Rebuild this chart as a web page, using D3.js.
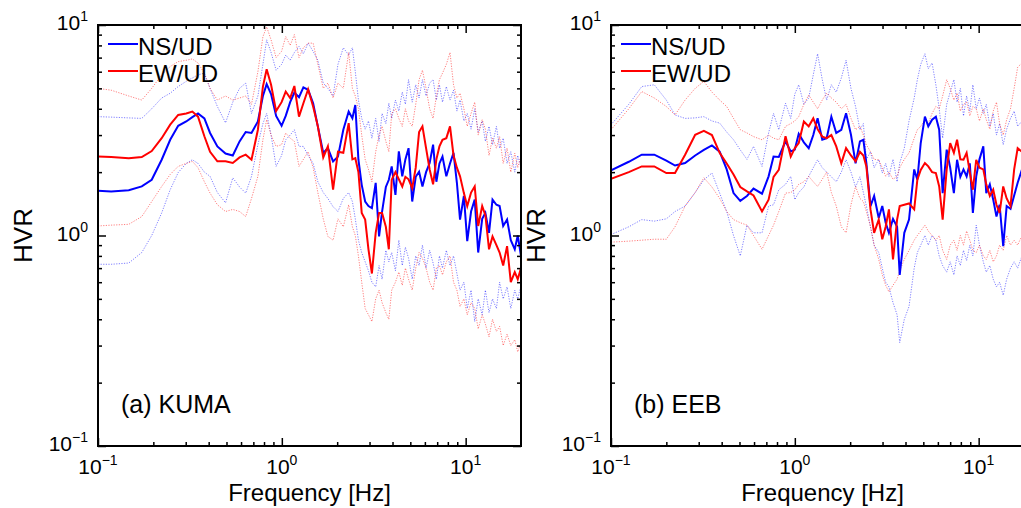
<!DOCTYPE html>
<html><head><meta charset="utf-8">
<script src="https://cdn.jsdelivr.net/npm/d3@7"></script>
<style>
body{margin:0;background:#fff;}
svg{display:block;}
text{font-family:"Liberation Sans",Arial,Helvetica,sans-serif;fill:#000;}
</style>
</head><body>
<svg id="c" width="1021" height="508"></svg>
<script>
// ---- Panel (a) KUMA ----
const freqA=[0.1,0.118,0.147,0.173,0.196,0.222,0.247,0.273,0.302,0.326,
0.35,0.379,0.407,0.446,0.494,0.541,0.589,0.636,0.684,0.741,
0.789,0.827,0.874,0.931,0.997,1.05,1.11,1.17,1.24,1.31,
1.39,1.48,1.57,1.68,1.78,1.9,2.02,2.16,2.31,2.42,
2.51,2.61,2.72,2.84,2.96,3.09,3.24,3.38,3.51,3.68,
3.82,3.96,4.15,4.33,4.52,4.7,4.89,5.12,5.35,5.58,
5.82,6.09,6.37,6.65,6.93,7.2,7.48,7.85,8.22,8.59,
8.96,9.32,9.78,10.2,10.7,11.2,11.7,12.3,12.8,13.4,
14.0,14.7,15.3,16.0,16.8,17.6,18.5,19.2,20.0];
const nsA=[1.63,1.62,1.64,1.71,1.84,2.29,2.85,3.32,3.48,3.65,
3.8,3.6,3.07,2.65,2.45,2.4,2.8,3.1,3.07,3.48,
4.6,5.24,4.7,3.7,3.32,3.7,4.3,4.78,4.54,5.05,
4.92,4.25,3.3,2.47,2.6,2.25,2.37,3.18,3.88,3.61,
4.17,2.29,1.74,1.45,1.38,1.35,1.78,0.99,1.3,1.7,
1.84,2.13,1.56,2.51,1.91,2.3,2.6,1.45,1.9,2.01,
1.71,2.0,2.21,2.7,1.8,2.2,2.37,1.91,2.2,2.47,
1.78,1.19,1.54,0.94,1.3,1.48,0.83,1.2,1.28,1.03,
1.48,1.4,1.38,1.11,1.19,0.95,0.86,1.0,0.8];
const ewA=[2.37,2.36,2.33,2.36,2.52,2.9,3.36,3.74,3.8,3.88,
3.67,2.96,2.5,2.25,2.25,2.21,2.35,2.42,2.29,3.18,
5.1,6.16,5.2,3.9,4.3,4.83,4.5,5.13,3.67,4.25,
4.95,4.1,3.3,2.35,2.65,1.65,2.5,2.47,3.42,2.3,
2.33,2.0,1.28,1.19,0.86,0.66,1.03,1.28,1.28,1.1,
0.86,1.84,2.0,1.85,1.71,1.9,1.85,1.68,2.1,3.1,
3.3,2.6,2.06,1.75,2.3,2.65,2.85,2.9,3.3,2.4,
2.1,1.91,1.59,1.38,1.6,1.71,1.11,1.38,1.25,0.86,
0.99,0.9,0.83,0.72,0.89,0.6,0.67,0.62,0.7];
const nsUpA=[3.67,3.65,3.62,3.6,4.0,4.5,4.74,5.1,5.4,5.6,
5.8,5.9,5.0,4.1,3.43,4.3,5.0,5.3,3.8,4.6,
6.5,8.5,7.4,6.1,6.5,7.2,6.8,7.4,7.9,7.3,
8.2,7.5,6.8,5.3,5.0,4.6,6.5,7.8,7.2,7.8,
6.0,4.4,3.6,3.2,3.5,2.9,3.6,2.8,3.8,3.4,
4.25,3.6,4.4,3.9,4.8,4.2,5.5,4.3,5.2,4.5,
5.5,4.6,5.3,5.5,4.4,5.2,4.3,5.1,4.4,4.9,
3.9,4.4,3.5,3.8,3.2,4.0,3.1,3.5,2.8,3.3,
2.7,3.3,2.6,2.9,2.2,2.5,2.0,2.4,2.1];
const ewUpA=[5.0,4.9,4.6,4.4,5.0,5.8,6.35,6.7,6.8,6.9,
6.6,5.9,5.0,4.4,4.6,4.4,4.5,4.6,4.2,6.0,
8.8,9.8,8.5,7.0,7.5,8.8,8.0,9.0,7.0,7.8,
8.2,8.2,6.5,5.0,5.3,4.5,5.3,5.0,7.4,5.0,
4.6,4.0,3.0,2.3,2.06,1.8,2.5,3.0,3.3,2.8,
2.5,3.8,4.0,3.6,3.3,4.0,3.5,3.3,4.2,5.5,
6.1,5.0,4.0,3.6,4.6,5.5,5.9,6.5,7.4,5.2,
4.5,4.74,4.0,3.3,3.8,4.3,3.0,3.55,3.2,2.4,
2.9,2.6,2.95,2.2,2.6,2.0,2.46,2.1,2.4];
const nsLoA=[0.73,0.73,0.74,0.83,1.0,1.28,1.65,1.99,2.2,2.29,
2.2,2.0,1.91,1.6,1.43,1.88,1.7,1.59,1.91,2.7,
3.4,3.8,3.0,2.13,2.4,2.85,3.0,3.18,2.65,2.65,
2.4,2.2,1.8,1.6,1.5,1.37,1.3,1.5,1.6,1.45,
1.2,0.95,0.83,0.75,0.68,0.6,0.57,0.72,0.62,0.85,
0.75,0.83,0.68,0.95,0.72,0.88,0.78,0.62,0.8,0.72,
0.9,0.7,0.85,0.74,0.62,0.8,0.7,0.85,0.72,0.8,
0.66,0.55,0.6,0.45,0.55,0.39,0.5,0.42,0.55,0.43,
0.5,0.45,0.6,0.5,0.57,0.45,0.55,0.5,0.58];
const ewLoA=[1.11,1.12,1.13,1.23,1.45,1.71,1.95,2.13,2.2,2.25,
2.1,1.8,1.59,1.4,1.3,1.33,1.3,1.23,1.5,1.91,
2.85,3.55,3.0,2.65,2.7,3.07,2.9,2.8,2.13,2.3,
2.5,2.1,1.6,1.2,0.99,0.95,1.2,1.1,1.4,1.1,
1.0,0.8,0.6,0.45,0.42,0.39,0.5,0.55,0.48,0.43,
0.4,0.55,0.6,0.67,0.58,0.7,0.62,0.55,0.7,0.83,
0.78,0.7,0.6,0.55,0.7,0.72,0.65,0.75,0.8,0.6,
0.55,0.46,0.5,0.42,0.48,0.45,0.36,0.42,0.38,0.33,
0.4,0.35,0.37,0.3,0.34,0.3,0.32,0.28,0.31];

// ---- Panel (b) EEB ----
const freqB=[0.1,0.125,0.147,0.172,0.2,0.223,0.253,0.287,0.32,0.354,
0.39,0.426,0.464,0.505,0.549,0.596,0.663,0.72,0.766,0.818,
0.89,0.95,1.0,1.05,1.12,1.19,1.26,1.33,1.41,1.49,
1.58,1.68,1.79,1.9,2.02,2.14,2.26,2.36,2.45,2.58,
2.7,2.86,2.99,3.12,3.25,3.42,3.6,3.72,3.94,4.18,
4.46,4.64,4.84,5.1,5.32,5.58,5.85,6.1,6.37,6.7,
7.0,7.33,7.63,7.95,8.27,8.6,8.95,9.3,9.7,10.1,
10.6,11.0,11.5,12.0,12.5,13.0,13.6,14.2,14.9,15.6,
16.3,17.2];
const nsB=[2.04,2.24,2.42,2.42,2.27,2.15,2.21,2.4,2.55,2.68,
2.5,2.06,1.59,1.46,1.54,1.67,1.58,1.91,2.37,2.36,
2.8,2.51,2.56,3.04,2.77,2.6,3.0,3.61,2.85,2.9,
3.67,3.07,3.18,3.81,3.01,2.2,2.8,2.85,2.21,1.38,
1.54,1.21,1.38,1.15,1.03,1.2,1.1,0.65,1.03,1.19,
2.06,1.84,2.75,3.67,3.3,3.55,3.67,3.18,1.59,2.56,
2.1,1.59,2.29,1.9,2.06,1.91,2.2,1.28,1.91,2.3,
2.65,1.59,1.75,1.48,1.23,1.4,0.89,1.38,1.34,1.55,
1.78,2.06];
const ewB=[1.86,2.0,2.13,2.13,1.98,1.98,2.42,3.01,3.14,3.0,
2.47,2.2,1.95,1.7,1.62,1.55,1.30,1.48,1.9,2.05,
2.96,2.37,2.6,2.75,3.48,3.3,3.6,3.2,2.95,2.9,
3.0,2.65,2.2,2.6,2.4,2.25,2.5,2.4,2.13,1.33,
1.03,1.19,0.96,1.1,1.33,0.77,1.19,1.38,1.4,1.42,
1.33,1.84,2.05,2.21,2.13,2.0,1.98,1.71,1.19,2.06,
2.75,2.47,2.85,2.3,2.29,2.47,2.0,1.65,2.29,2.1,
2.06,1.75,1.54,1.65,1.4,1.28,1.71,1.5,1.38,2.06,
2.6,2.5];
const nsUpB=[3.36,4.2,5.1,5.2,4.4,3.74,3.6,3.62,3.67,3.5,
3.42,3.1,2.85,2.55,2.3,2.65,2.13,3.07,3.8,3.18,
4.25,3.6,4.7,5.2,4.2,4.5,5.8,7.3,5.5,4.4,
5.2,4.8,5.6,6.8,5.0,4.1,3.18,3.4,2.29,2.5,
2.1,2.3,1.98,2.2,1.91,2.3,1.8,2.21,2.6,3.5,
4.5,5.5,6.5,7.3,6.2,6.6,5.2,4.0,2.9,4.2,
4.8,5.5,4.3,5.0,3.7,4.6,3.9,5.2,4.0,4.5,
3.8,4.2,3.3,3.8,3.0,3.4,2.7,3.2,3.6,3.9,
3.3,3.5];
const ewUpB=[3.18,4.0,4.83,4.5,4.1,3.74,4.4,5.0,5.4,4.8,
4.4,4.1,3.6,3.18,3.07,2.95,2.85,3.0,2.9,2.85,
3.3,3.4,3.5,3.67,4.2,4.65,4.3,4.0,4.4,4.75,
4.5,4.3,4.0,4.2,3.6,3.18,3.3,3.0,2.7,2.5,
2.3,2.29,2.1,1.91,2.0,1.85,1.91,2.1,2.3,2.47,
2.9,3.18,3.3,3.55,3.4,3.8,4.1,4.0,4.6,5.5,
5.0,4.4,4.75,3.9,4.2,4.3,3.7,4.1,4.0,3.5,
4.0,3.55,3.2,3.9,4.3,3.4,3.0,3.55,4.0,5.0,
6.3,6.6];
const nsLoB=[1.01,1.1,1.19,1.17,1.2,1.3,1.38,1.6,1.84,1.98,
1.59,1.3,1.0,0.8,1.12,1.03,1.03,1.38,1.4,1.65,
1.75,1.91,1.48,1.6,1.7,1.91,2.1,2.29,2.1,2.0,
1.9,1.8,2.0,2.29,2.0,1.7,1.9,1.6,1.38,1.1,
0.9,0.83,0.7,0.6,0.57,0.48,0.42,0.31,0.4,0.46,
0.7,0.83,0.9,1.0,0.9,1.0,0.95,0.8,0.72,0.67,
0.75,0.65,0.8,0.72,0.85,0.76,0.9,0.8,1.12,0.9,
0.75,0.67,0.72,0.62,0.57,0.6,0.52,0.62,0.7,0.75,
0.7,0.8];
const ewLoB=[0.93,0.94,0.95,0.96,0.96,1.1,1.38,1.6,1.88,1.7,
1.5,1.3,1.19,1.15,1.12,1.0,0.86,1.0,1.12,1.3,
1.59,1.6,1.65,1.75,1.8,1.91,1.8,1.71,1.85,2.0,
1.6,1.38,1.1,1.03,1.4,1.71,1.5,1.45,1.3,1.1,
0.9,0.77,0.65,0.58,0.54,0.58,0.62,0.68,0.77,0.85,
0.95,1.0,1.05,1.12,1.05,1.0,0.95,1.0,0.85,0.77,
0.9,0.95,0.85,1.0,0.9,1.05,0.95,0.85,0.83,0.9,
0.8,0.77,0.85,0.75,0.8,0.9,0.85,1.0,0.9,0.95,
0.9,1.0];

// ---- axes / labels ----
const xMajor=[0.1,1,10];
const xExp=["−1","0","1"];
const xMinor=[0.2,0.3,0.4,0.5,0.6,0.7,0.8,0.9,2,3,4,5,6,7,8,9];
const yMajor=[0.1,1,10];
const yExp=["−1","0","1"];
const yMinor=[0.2,0.3,0.4,0.5,0.6,0.7,0.8,0.9,2,3,4,5,6,7,8,9];
const legendNames=["NS/UD","EW/UD"];
const panelNames=["(a) KUMA","(b) EEB"];
const xTitle="Frequency [Hz]";
const yTitle="HVR";

const BLUE="#0000ff", RED="#ff0000";
const panels=[
 {left:98, freq:freqA, ns:nsA, ew:ewA, nsUp:nsUpA, nsLo:nsLoA, ewUp:ewUpA, ewLo:ewLoA, name:panelNames[0]},
 {left:611, freq:freqB, ns:nsB, ew:ewB, nsUp:nsUpB, nsLo:nsLoB, ewUp:ewUpB, ewLo:ewLoB, name:panelNames[1]}
];
const W=423, TOP=25, BOT=446;
const svg=d3.select("#c");

panels.forEach((p,pi)=>{
  const x=d3.scaleLog().domain([0.1,20]).range([p.left,p.left+W]);
  const y=d3.scaleLog().domain([0.1,10]).range([BOT,TOP]);
  const g=svg.append("g");
  const cid="clip"+pi;
  g.append("clipPath").attr("id",cid).append("rect")
    .attr("x",p.left).attr("y",TOP).attr("width",W).attr("height",BOT-TOP);
  const line=d3.line().x((d,i)=>x(p.freq[i])).y(d=>y(d));
  const plot=g.append("g").attr("clip-path",`url(#${cid})`);
  const dotted=[[p.nsUp,BLUE],[p.nsLo,BLUE],[p.ewUp,RED],[p.ewLo,RED]];
  dotted.forEach(([arr,col])=>{
    plot.append("path").attr("d",line(arr)).attr("fill","none")
      .attr("stroke",col).attr("stroke-width",1).attr("stroke-opacity",0.5)
      .attr("stroke-dasharray","1.2,1.4");
  });
  plot.append("path").attr("d",line(p.ns)).attr("fill","none").attr("stroke",BLUE).attr("stroke-width",2);
  plot.append("path").attr("d",line(p.ew)).attr("fill","none").attr("stroke",RED).attr("stroke-width",2);

  // ticks (inside, all four sides)
  const axes=[
    [d3.axisBottom(x),`translate(0,${BOT})`,xMajor,xMinor],
    [d3.axisTop(x),`translate(0,${TOP})`,xMajor,xMinor],
    [d3.axisLeft(y),`translate(${p.left},0)`,yMajor,yMinor],
    [d3.axisRight(y),`translate(${p.left+W},0)`,yMajor,yMinor]
  ];
  axes.forEach(([ax,tr,maj,min])=>{
    g.append("g").attr("transform",tr)
      .call(ax.tickValues(maj).tickSize(-8).tickFormat(""))
      .call(s=>s.select(".domain").remove())
      .call(s=>s.selectAll("line").attr("stroke","#000").attr("stroke-width",1.5));
    g.append("g").attr("transform",tr)
      .call(ax.tickValues(min).tickSize(-4).tickFormat(""))
      .call(s=>s.select(".domain").remove())
      .call(s=>s.selectAll("line").attr("stroke","#000").attr("stroke-width",1.5));
  });
  g.append("rect").attr("x",p.left).attr("y",TOP).attr("width",W).attr("height",BOT-TOP)
    .attr("fill","none").attr("stroke","#000").attr("stroke-width",2);

  // tick labels
  xMajor.forEach((v,i)=>{
    const t=g.append("text").attr("x",x(v)).attr("y",474).attr("text-anchor","middle").attr("font-size",21);
    t.append("tspan").text("10");
    t.append("tspan").attr("dy",-9).attr("font-size",14).text(xExp[i]);
  });
  yMajor.forEach((v,i)=>{
    const t=g.append("text").attr("x",p.left-10).attr("y",y(v)+5).attr("text-anchor","end").attr("font-size",21);
    t.append("tspan").text("10");
    t.append("tspan").attr("dy",-9).attr("font-size",14).text(yExp[i]);
  });
  // axis titles
  g.append("text").attr("x",p.left+W/2).attr("y",501).attr("text-anchor","middle").attr("font-size",24).text(xTitle);
  g.append("text").attr("transform",`translate(${p.left-66},${(TOP+BOT)/2}) rotate(-90)`)
    .attr("text-anchor","middle").attr("font-size",26).text(yTitle);

  // legend
  [[BLUE,44,55],[RED,71,82]].forEach(([col,ly,ty],i)=>{
    g.append("line").attr("x1",p.left+10).attr("x2",p.left+40).attr("y1",ly).attr("y2",ly)
      .attr("stroke",col).attr("stroke-width",2);
    g.append("text").attr("x",p.left+40).attr("y",ty).attr("font-size",24).text(legendNames[i]);
  });
  g.append("text").attr("x",p.left+23).attr("y",413).attr("font-size",25).text(p.name);
});
</script>
</body></html>
